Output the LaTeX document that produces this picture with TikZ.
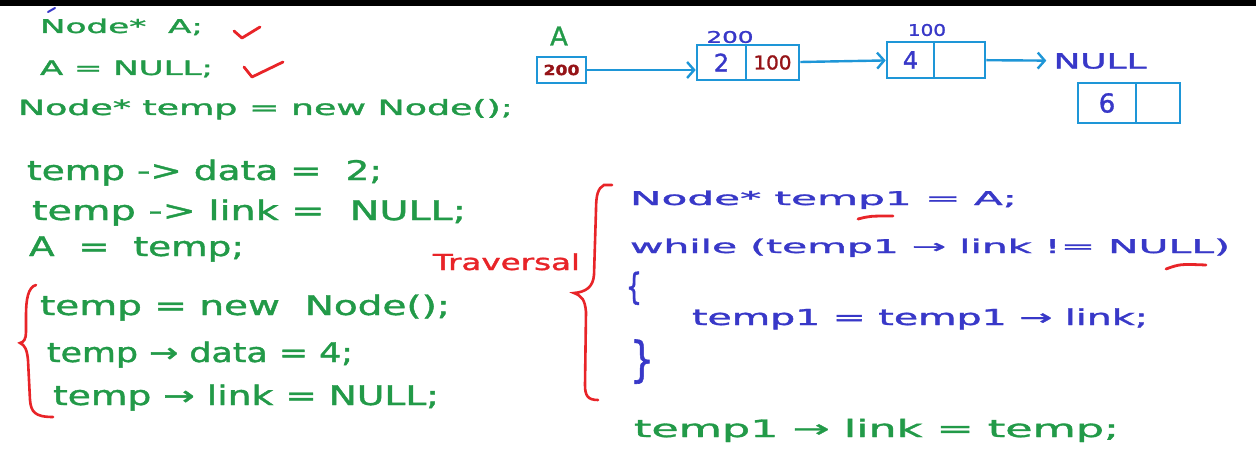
\documentclass[tikz,border=0pt]{standalone}
\usepackage{fontspec}
\usepackage{graphicx}
\setmainfont{DejaVu Sans}
\newfontfamily\hand{DejaVu Sans}[FakeBold=1.3]
\usetikzlibrary{arrows.meta}
\definecolor{hgreen}{RGB}{34,154,72}
\definecolor{hblue}{RGB}{56,56,200}
\definecolor{hred}{RGB}{232,36,40}
\definecolor{hdred}{RGB}{150,20,24}
\definecolor{hbox}{RGB}{30,150,215}
\newsavebox\fitbox
\newcommand\fitw[2]{\sbox\fitbox{#2}\scalebox{\fpeval{#1/(\the\wd\fitbox)}}[1]{\usebox\fitbox}}
\newcommand\fs[1]{\fontsize{#1}{#1}\hand}
\begin{document}
\begin{tikzpicture}[x=1pt,y=-1pt,
  code/.style={anchor=base west, inner sep=0pt, outer sep=0pt},
  cell/.style={draw=hbox, line width=2.6pt, inner sep=0pt},
  link/.style={hbox, line width=2.4pt, -{Straight Barb[length=7pt,width=16pt]}},
  redstroke/.style={hred, line width=2.8pt, line cap=round, line join=round}]
\useasboundingbox (0,0) rectangle (1256,476);
\fill[white] (0,0) rectangle (1256,476);
\fill[black] (0,0) rectangle (1256,6.5);
\draw[hblue, line width=2pt, line cap=round] (48,12) -- (55,8);

% left column code
\node[code, hgreen] (l1) at (40,33) {\fs{19}\fitw{163}{Node*~~A;}};
\node[code, hgreen] (l2) at (40,75) {\fs{20}\fitw{173}{A = NULL;}};
\node[code, hgreen] (l3) at (18,115) {\fs{21}\fitw{495}{Node* temp = new Node();}};
\node[code, hgreen] (l4) at (27,180) {\fs{27}\fitw{355}{temp -> data =~~2;}};
\node[code, hgreen] (l5) at (32,220) {\fs{27}\fitw{434}{temp -> link =~~NULL;}};
\node[code, hgreen] (l6) at (29,256) {\fs{27}\fitw{215}{A~~=~~temp;}};
\node[code, hgreen] (l7) at (40,315) {\fs{27}\fitw{410}{temp = new~~Node();}};
\node[code, hgreen] (l8) at (47,362) {\fs{27}\fitw{306}{temp → data = 4;}};
\node[code, hgreen] (l9) at (53,405) {\fs{27}\fitw{386}{temp → link = NULL;}};

% check marks
\draw[redstroke] (234,31) -- (242,38) -- (260,27);
\draw[redstroke] (244,67) -- (252,77) -- (283,62);

% left brace
\draw[hred, line width=2.6pt, line cap=round]
  (36,285) .. controls (28,287) and (26,300) .. (26,315) -- (26,332)
  .. controls (26,339) and (24,342) .. (20,343)
  .. controls (25,345) and (27,350) .. (28,360) -- (30,400)
  .. controls (31,412) and (35,417) .. (53,417);

% traversal label and brace
\node[code, hred] (trav) at (433,270) {\fs{22}\fitw{147}{Traversal}};
\draw[hred, line width=2.6pt, line cap=round]
  (612,185) -- (604,185) .. controls (598,188) and (596,195) .. (596,210) -- (594,275)
  .. controls (593,287) and (586,292) .. (574,293)
  .. controls (582,296) and (585,300) .. (586,312) -- (585,385)
  .. controls (585,396) and (588,400) .. (598,400);

% blue code
\node[code, hblue] (b1) at (630,205) {\fs{19}\fitw{387}{Node* temp1 = A;}};
\node[code, hblue] (b2) at (630,253) {\fs{19}\fitw{600}{while (temp1 → link != NULL)}};
\node[code, hblue] (b3) at (626,299) {\fs{36}\fitw{16}{\{}};
\node[code, hblue] (b4) at (692,325) {\fs{22}\fitw{456}{temp1 = temp1 → link;}};
\node[code, hblue] (b5) at (630,376) {\fs{48}\fitw{24}{\}}};
\draw[redstroke] (858,219) .. controls (870,216) .. (893,216);
\draw[redstroke] (1166,269) .. controls (1180,264) .. (1206,265);

\node[code, hgreen] (g1) at (634,437) {\fs{24}\fitw{485}{temp1 → link = temp;}};

% linked list diagram
\node[hgreen, inner sep=0pt] (lblA) at (559,36) {\fs{26}A};
\node[cell, minimum width=49pt, minimum height=26pt] (pA) at (561.5,70)
  {\fs{14}\color{hdred}\fitw{36}{\bfseries 200}};
\node[hblue, inner sep=0pt] (lbl200) at (730,37) {\fs{16}\fitw{47}{200}};
\node[cell, minimum width=49pt, minimum height=35pt] (n1a) at (721.5,62.5) {\fs{24}\color{hblue}2};
\node[cell, minimum width=53pt, minimum height=35pt] (n1b) at (772.5,62.5)
  {\fs{19}\color{hdred}\fitw{38}{100}};
\node[hblue, inner sep=0pt] (lbl100) at (927,30) {\fs{16}\fitw{38}{100}};
\node[cell, minimum width=47pt, minimum height=36pt] (n2a) at (910.5,60) {\fs{24}\color{hblue}4};
\node[cell, minimum width=51pt, minimum height=36pt] (n2b) at (959.5,60) {};
\node[hblue, inner sep=7pt] (null) at (1100,61) {\fs{21}\fitw{93}{NULL}};
\node[cell, minimum width=58pt, minimum height=40pt] (n3a) at (1107,103) {\fs{26}\color{hblue}6};
\node[cell, minimum width=44pt, minimum height=40pt] (n3b) at (1158,103) {};

\draw[link] (pA) -- (n1a.west |- pA);
\draw[link] (n1b) -- (n2a);
\draw[link] (n2b) -- (null);
\end{tikzpicture}
\end{document}
